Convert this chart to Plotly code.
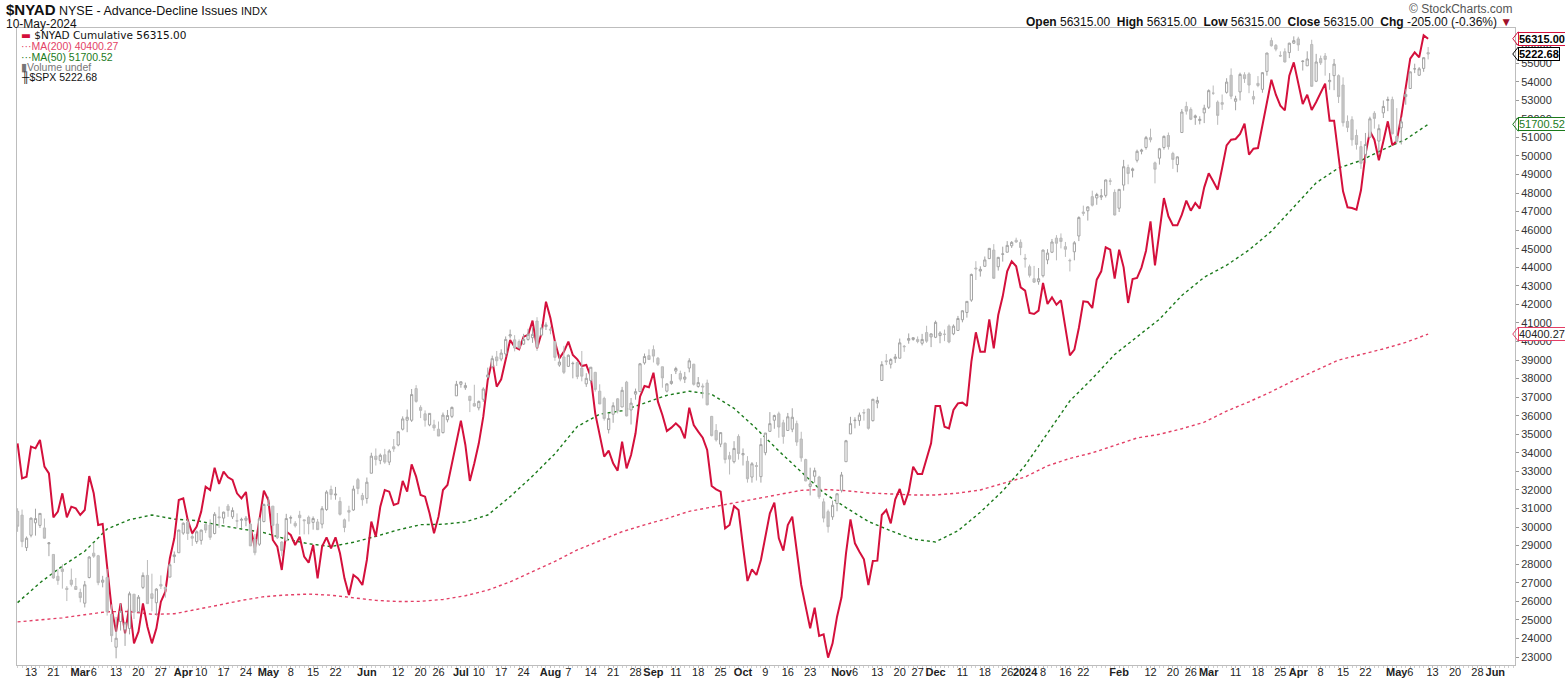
"""
$NYAD 累積漲跌線 × $SPX 疊加（StockCharts 風格重繪）
日線，2023-02-08 ~ 2024-05-10，x 軸以交易日序號排列（無週末/假日空隙）
"""
import pandas as pd
import plotly.graph_objects as go

# ── 交易日曆 ─────────────────────────────────────────────
HOLIDAYS = ['2023-02-20', '2023-04-07', '2023-05-29', '2023-06-19', '2023-07-04',
            '2023-09-04', '2023-11-23', '2023-12-25', '2024-01-01', '2024-01-15',
            '2024-02-19', '2024-03-29', '2024-05-27']
CAL = pd.bdate_range('2023-02-08', '2024-06-07', freq='C', holidays=HOLIDAYS)
DAY = {d.strftime('%Y-%m-%d'): i for i, d in enumerate(CAL)}

# ── $NYAD 收盤（每日）────────────────────────────────────
NYAD = [
    34513, 32627, 32716, 34333, 34243, 34692, 33255, 32896, 30525, 30831,
    31819, 30525, 31100, 31010, 30651, 30920, 32752, 31819, 30112, 30166,
    27867, 25622, 24365, 25891, 24275, 25802, 23736, 24365, 25891, 24634,
    23736, 24545, 25981, 26520, 28317, 29394, 31460, 31549, 30382, 29664,
    30023, 30831, 32178, 31998, 33202, 32321, 32986, 32681, 32537, 31819,
    31549, 31891, 30023, 28855, 30382, 31962, 31460, 29304, 28945, 27688,
    29753, 29574, 29035, 29484, 28406, 28083, 29035, 27238, 28945, 29448,
    28855, 29448, 28586, 27238, 26341, 27418, 27238, 26880, 28227, 30292,
    29484, 31100, 31998, 31909, 31190, 31280, 32483, 31909, 33381, 32717,
    31729, 31639, 30741, 29664, 30562, 31998, 32268, 33435, 34692, 35734,
    34423, 32483, 33435, 34513, 35950, 37925, 39003, 37566, 37961, 39003,
    40080, 39700, 39577, 40260, 40350, 41122, 39631, 40440, 42146, 41248,
    39990, 39092, 39452, 39990, 39272, 39038, 38679, 38733, 38105, 36129,
    34872, 33794, 34118, 33435, 33040, 34602, 33166, 33884, 35052, 37027,
    37602, 37530, 38320, 36758, 36039, 35177, 35357, 35590, 35357, 34782,
    36434, 35500, 35141, 34818, 34153, 32214, 32034, 31908, 29933, 30112,
    31136, 30920, 28945, 27095, 27724, 27418, 28227, 29484, 30741, 31316,
    29394, 28729, 30112, 30562, 28765, 26880, 25712, 24545, 25658, 24132,
    24222, 22964, 23736, 25173, 26215, 28586, 30418, 29124, 28675, 28262,
    26880, 28173, 28191, 30651, 30920, 30202, 31495, 32052, 31190, 31908,
    33255, 32860, 32860, 33704, 34513, 36524, 36524, 35411, 35321, 36309,
    36668, 36704, 36524, 38913, 40493, 39452, 39452, 41194, 39631, 41427,
    42433, 43780, 44319, 44050, 42918, 42739, 41535, 41481, 41661, 43152,
    42021, 42380, 41984, 42218, 40727, 39254, 39560, 40727, 42164, 42128,
    41805, 43331, 43780, 45073, 44947, 43385, 44947, 43996, 42074, 43367,
    43421, 43996, 44893, 46474, 44103, 45935, 47731, 46744, 46259, 46259,
    46833, 47588, 47049, 47462, 47157, 48306, 49060, 48630, 48180, 49348,
    50569, 50874, 50910, 51180, 51736, 50067, 50390, 50425, 51683, 52940,
    54107, 53299, 52706, 52455, 54323, 55041, 53981, 52796, 53299, 52473,
    52904, 53389, 53892, 51898, 51898, 49976, 48091, 47229, 47193, 47103,
    48145, 50066, 51323, 50874, 49761, 50785, 51862, 50569, 50820, 52131,
    53568, 55239, 55580, 55310, 56496, 56315,
]

# ── 移動平均（每 5 個交易日讀一點）──────────────────────
MA_DAY = list(range(0, 316, 5))
MA200 = [
    24890, 25000, 25110, 25280, 25440, 25450, 25300, 25330, 25550, 25800,
    26050, 26250, 26340, 26390, 26330, 26200, 26050, 25990, 26000, 26100,
    26300, 26600, 27050, 27600, 28150, 28770, 29250, 29750, 30120, 30460,
    30850, 31080, 31300, 31550, 31740, 31980, 32030, 31960, 31840, 31780,
    31730, 31730, 31830, 32000, 32330, 32700, 33300, 33700, 34000, 34400,
    34800, 35000, 35300, 35650, 36250, 36750, 37300, 37900, 38450, 39000,
    39300, 39600, 39950, 40400,
]
MA50 = [
    25930, 27000, 27900, 28700, 29900, 30400, 30650, 30430, 30350, 30100,
    29900, 29700, 29350, 29100, 28950, 29180, 29500, 29850, 30130, 30150,
    30280, 30650, 31640, 32750, 33950, 35420, 36080, 36270, 36680, 37100,
    37320, 37150, 36400, 35300, 34100, 33000, 31850, 31050, 30300, 29800,
    29350, 29200, 29800, 30800, 31950, 33320, 35080, 36800, 38000, 39300,
    40250, 41200, 42480, 43460, 44110, 44930, 45940, 47230, 48550, 49350,
    49750, 50350, 50890, 51700,
]

# ── $SPX 日 K（疊加，隱藏軸）───────────────────────────
SPX_OPEN = [
    4153, 4144, 4068, 4097, 4126, 4120, 4114, 4077, 4052, 4001, 4018, 3973, 3992, 3977,
    3963, 3938, 3998, 4055, 4049, 3987, 3998, 3912, 3835, 3895, 3876, 3879, 3959, 3918, 3975, 4003, 3960, 3939, 3982, 3975, 3999, 4047, 4056,
    4102, 4128, 4094, 4082, 4085, 4122, 4121, 4101, 4140, 4137, 4165, 4140, 4131, 4132, 4132, 4123, 4088, 4076, 4129,
    4167, 4165, 4123, 4081, 4084, 4137, 4125, 4144, 4133, 4139, 4127, 4128, 4123, 4157, 4204, 4191, 4176, 4133, 4155, 4156, 4227, 4190,
    4183, 4242, 4282, 4272, 4285, 4268, 4304, 4308, 4345, 4366, 4366, 4440, 4396, 4381, 4355, 4355, 4345, 4337, 4367, 4375, 4423,
    4450, 4442, 4422, 4405, 4395, 4415, 4467, 4491, 4514, 4509, 4521, 4563, 4554, 4550, 4544, 4555, 4559, 4598, 4565, 4585,
    4579, 4550, 4495, 4514, 4492, 4498, 4501, 4488, 4451, 4459, 4478, 4434, 4417, 4344, 4380, 4416, 4397, 4455, 4390, 4427, 4433, 4500, 4517,
    4531, 4511, 4491, 4434, 4452, 4481, 4475, 4462, 4488, 4497, 4445, 4446, 4453, 4375, 4342, 4310, 4312, 4283, 4269, 4328,
    4285, 4270, 4233, 4260, 4234, 4290, 4340, 4366, 4381, 4360, 4342, 4345, 4358, 4322, 4274, 4211, 4235, 4233, 4175, 4152, 4140, 4171,
    4202, 4269, 4334, 4365, 4365, 4384, 4392, 4365, 4406, 4459, 4505, 4497, 4510, 4511, 4539, 4553, 4555, 4555, 4546, 4571, 4561,
    4560, 4564, 4567, 4586, 4568, 4576, 4601, 4618, 4647, 4722, 4715, 4726, 4744, 4764, 4725, 4754, 4759, 4774, 4787, 4782,
    4745, 4725, 4697, 4690, 4704, 4741, 4759, 4792, 4792, 4772, 4740, 4760, 4797, 4853, 4856, 4889, 4886, 4888, 4892, 4926, 4899,
    4862, 4916, 4957, 4950, 4974, 4995, 5004, 5027, 4968, 4979, 5004, 5032, 4990, 4964, 5039, 5100, 5093, 5074, 5067, 5085,
    5098, 5131, 5110, 5109, 5133, 5173, 5112, 5134, 5174, 5176, 5123, 5154, 5140, 5182, 5254, 5243, 5219, 5228, 5226, 5248,
    5258, 5205, 5195, 5245, 5159, 5212, 5218, 5158, 5172, 5172, 5150, 5065, 5069, 5032, 5006, 4988, 5028, 5084, 5019, 5085, 5114, 5116,
    5030, 5050, 5123, 5142, 5188, 5173, 5189, 5226,
]
SPX_HIGH = [
    4160, 4157, 4094, 4138, 4159, 4149, 4136, 4081, 4053, 4018, 4029, 3978, 4019, 3997,
    3972, 3990, 4048, 4079, 4051, 4002, 4018, 3935, 3906, 3937, 3894, 3965, 3959, 3957, 4010, 4039, 4007, 3973, 4003, 3979, 4031, 4059, 4110,
    4127, 4134, 4100, 4108, 4110, 4125, 4134, 4151, 4164, 4152, 4170, 4162, 4148, 4138, 4142, 4127, 4100, 4139, 4171,
    4187, 4165, 4149, 4083, 4147, 4143, 4130, 4154, 4133, 4143, 4141, 4135, 4165, 4202, 4213, 4210, 4186, 4136, 4166, 4213, 4231, 4196,
    4232, 4290, 4300, 4288, 4299, 4298, 4322, 4340, 4375, 4391, 4439, 4448, 4401, 4389, 4382, 4367, 4363, 4384, 4390, 4398, 4458,
    4456, 4454, 4423, 4449, 4412, 4443, 4489, 4517, 4528, 4532, 4562, 4578, 4565, 4555, 4568, 4580, 4583, 4607, 4590, 4595,
    4585, 4551, 4520, 4540, 4520, 4503, 4503, 4528, 4476, 4490, 4479, 4450, 4421, 4382, 4408, 4418, 4444, 4458, 4418, 4440, 4500, 4522, 4532,
    4541, 4514, 4491, 4452, 4474, 4491, 4482, 4479, 4511, 4498, 4467, 4452, 4461, 4376, 4357, 4338, 4314, 4292, 4317, 4333,
    4300, 4282, 4268, 4268, 4324, 4336, 4385, 4379, 4386, 4367, 4383, 4394, 4365, 4339, 4276, 4255, 4255, 4236, 4183, 4157, 4178, 4195,
    4245, 4320, 4374, 4373, 4384, 4392, 4393, 4416, 4421, 4504, 4521, 4511, 4521, 4557, 4542, 4569, 4560, 4562, 4568, 4587, 4569,
    4599, 4574, 4578, 4590, 4590, 4610, 4623, 4644, 4709, 4738, 4726, 4749, 4769, 4778, 4748, 4772, 4785, 4785, 4793, 4789,
    4755, 4730, 4727, 4722, 4765, 4766, 4790, 4799, 4803, 4783, 4744, 4785, 4843, 4868, 4866, 4903, 4898, 4907, 4929, 4932, 4906,
    4907, 4975, 4964, 4957, 4999, 5001, 5031, 5048, 4971, 5003, 5032, 5039, 4994, 4983, 5094, 5111, 5098, 5081, 5077, 5104,
    5140, 5149, 5114, 5128, 5166, 5189, 5125, 5179, 5180, 5180, 5137, 5171, 5180, 5225, 5261, 5246, 5229, 5236, 5249, 5264,
    5263, 5208, 5229, 5256, 5223, 5219, 5225, 5178, 5211, 5175, 5168, 5079, 5077, 5046, 5019, 5038, 5076, 5089, 5058, 5114, 5123, 5123,
    5096, 5074, 5140, 5181, 5200, 5192, 5215, 5239,
]
SPX_LOW = [
    4105, 4069, 4060, 4092, 4096, 4114, 4089, 4048, 3995, 3981, 3972, 3943, 3977, 3969,
    3940, 3928, 3996, 4044, 3980, 3975, 3909, 3847, 3809, 3874, 3838, 3865, 3901, 3917, 3971, 3936, 3919, 3909, 3971, 3951, 3999, 4032, 4056,
    4098, 4086, 4072, 4077, 4075, 4102, 4086, 4099, 4114, 4124, 4140, 4135, 4114, 4114, 4118, 4072, 4050, 4072, 4127,
    4165, 4099, 4088, 4048, 4084, 4124, 4115, 4098, 4099, 4099, 4110, 4110, 4113, 4154, 4180, 4180, 4143, 4104, 4129, 4154, 4193, 4166,
    4171, 4242, 4260, 4263, 4264, 4261, 4292, 4305, 4342, 4338, 4362, 4407, 4371, 4351, 4352, 4341, 4329, 4335, 4361, 4371, 4423,
    4442, 4437, 4385, 4398, 4389, 4409, 4464, 4489, 4493, 4504, 4514, 4557, 4527, 4532, 4542, 4552, 4547, 4528, 4564, 4577,
    4567, 4505, 4491, 4474, 4491, 4464, 4462, 4457, 4444, 4453, 4433, 4404, 4365, 4335, 4360, 4382, 4397, 4375, 4356, 4414, 4432, 4496, 4507,
    4501, 4493, 4442, 4431, 4449, 4474, 4457, 4453, 4478, 4447, 4442, 4417, 4401, 4328, 4316, 4303, 4265, 4239, 4265, 4274,
    4260, 4220, 4220, 4225, 4220, 4284, 4339, 4346, 4325, 4311, 4342, 4338, 4306, 4269, 4223, 4190, 4220, 4182, 4127, 4103, 4133, 4153,
    4197, 4269, 4334, 4347, 4353, 4365, 4344, 4363, 4394, 4459, 4495, 4487, 4500, 4511, 4526, 4545, 4552, 4546, 4541, 4547, 4537,
    4558, 4546, 4551, 4546, 4565, 4575, 4595, 4606, 4643, 4694, 4702, 4725, 4743, 4697, 4716, 4737, 4759, 4769, 4781, 4752,
    4723, 4700, 4687, 4683, 4700, 4731, 4757, 4740, 4768, 4748, 4714, 4740, 4785, 4844, 4833, 4866, 4870, 4881, 4887, 4916, 4845,
    4853, 4903, 4918, 4934, 4969, 4988, 4999, 5016, 4920, 4964, 4999, 4999, 4954, 4946, 5039, 5081, 5068, 5057, 5058, 5061,
    5094, 5127, 5057, 5092, 5130, 5117, 5091, 5114, 5155, 5131, 5105, 5145, 5132, 5172, 5240, 5229, 5216, 5203, 5213, 5246,
    5230, 5184, 5195, 5146, 5157, 5197, 5172, 5139, 5138, 5108, 5053, 5040, 5008, 4999, 4954, 4969, 5027, 5048, 4990, 5073, 5089, 5035,
    5013, 5011, 5104, 5142, 5178, 5172, 5181, 5210,
]
SPX_CLOSE = [
    4118, 4082, 4090, 4137, 4136, 4148, 4090, 4079, 3997, 3991, 4012, 3970, 3982, 3970,
    3951, 3981, 4046, 4048, 3986, 3992, 3918, 3862, 3856, 3919, 3892, 3960, 3917, 3952, 4003, 3937, 3949, 3971, 3978, 3971, 4028, 4051, 4109,
    4125, 4101, 4090, 4105, 4109, 4109, 4092, 4146, 4138, 4151, 4155, 4155, 4130, 4134, 4137, 4072, 4056, 4135, 4169,
    4168, 4120, 4091, 4061, 4136, 4138, 4119, 4138, 4131, 4124, 4136, 4110, 4159, 4198, 4192, 4193, 4146, 4115, 4151, 4205, 4206, 4180,
    4221, 4282, 4274, 4284, 4268, 4294, 4299, 4339, 4369, 4373, 4426, 4410, 4389, 4366, 4382, 4348, 4329, 4378, 4377, 4396, 4450,
    4456, 4447, 4412, 4399, 4410, 4439, 4472, 4510, 4505, 4523, 4555, 4566, 4535, 4536, 4555, 4567, 4567, 4537, 4582, 4589,
    4577, 4513, 4502, 4478, 4518, 4499, 4468, 4469, 4464, 4490, 4438, 4404, 4370, 4370, 4400, 4388, 4436, 4376, 4406, 4433, 4498, 4515, 4508,
    4516, 4497, 4465, 4451, 4457, 4487, 4462, 4467, 4505, 4450, 4454, 4444, 4402, 4330, 4320, 4337, 4274, 4275, 4300, 4288,
    4288, 4229, 4264, 4258, 4309, 4336, 4358, 4377, 4350, 4328, 4374, 4373, 4315, 4278, 4224, 4217, 4248, 4187, 4137, 4117, 4167, 4194,
    4238, 4318, 4358, 4366, 4378, 4383, 4347, 4415, 4412, 4496, 4503, 4508, 4514, 4547, 4538, 4557, 4559, 4550, 4555, 4551, 4568,
    4595, 4570, 4567, 4549, 4586, 4604, 4622, 4644, 4707, 4720, 4719, 4741, 4768, 4698, 4747, 4755, 4775, 4782, 4783, 4770,
    4743, 4705, 4689, 4697, 4764, 4757, 4783, 4780, 4784, 4766, 4739, 4781, 4840, 4850, 4865, 4869, 4894, 4891, 4928, 4925, 4846,
    4906, 4959, 4943, 4954, 4995, 4998, 5027, 5022, 4953, 5001, 5030, 5006, 4976, 4982, 5087, 5089, 5070, 5078, 5070, 5096,
    5137, 5131, 5079, 5105, 5157, 5124, 5118, 5175, 5165, 5150, 5117, 5149, 5179, 5225, 5242, 5234, 5218, 5204, 5248, 5254,
    5244, 5206, 5211, 5147, 5204, 5202, 5210, 5161, 5199, 5123, 5062, 5051, 5022, 5011, 4967, 5011, 5071, 5072, 5048, 5100, 5116, 5036,
    5018, 5064, 5128, 5181, 5188, 5188, 5214, 5222.68,
]

# ── x 軸刻度 ────────────────────────────────────────────
TICK_DATES = [
    '2023-02-13', '2023-02-21', '2023-03-01', '2023-03-06', '2023-03-13', '2023-03-20', '2023-03-27',
    '2023-04-03', '2023-04-10', '2023-04-17', '2023-04-24', '2023-05-01', '2023-05-08', '2023-05-15',
    '2023-05-22', '2023-06-01', '2023-06-12', '2023-06-20', '2023-06-26', '2023-07-03', '2023-07-10',
    '2023-07-17', '2023-07-24', '2023-08-01', '2023-08-07', '2023-08-14', '2023-08-21', '2023-08-28',
    '2023-09-01', '2023-09-11', '2023-09-18', '2023-09-25', '2023-10-02', '2023-10-09', '2023-10-16',
    '2023-10-23', '2023-11-01', '2023-11-06', '2023-11-13', '2023-11-20', '2023-11-27', '2023-12-01',
    '2023-12-11', '2023-12-18', '2023-12-26', '2024-01-02', '2024-01-08', '2024-01-16', '2024-01-22',
    '2024-02-01', '2024-02-12', '2024-02-20', '2024-02-26', '2024-03-01', '2024-03-11', '2024-03-18',
    '2024-03-25', '2024-04-01', '2024-04-08', '2024-04-15', '2024-04-22', '2024-05-01', '2024-05-06',
    '2024-05-13', '2024-05-20', '2024-05-28', '2024-06-03',
]
TICK_TEXT = [
    '13', '21', '<b>Mar</b>', '6', '13', '20', '27',
    '<b>Apr</b>', '10', '17', '24', '<b>May</b>', '8', '15',
    '22', '<b>Jun</b>', '12', '20', '26', '<b>Jul</b>', '10',
    '17', '24', '<b>Aug</b>', '7', '14', '21', '28',
    '<b>Sep</b>', '11', '18', '25', '<b>Oct</b>', '9', '16',
    '23', '<b>Nov</b>', '6', '13', '20', '27', '<b>Dec</b>',
    '11', '18', '26', '<b>2024</b>', '8', '16', '22',
    '<b>Feb</b>', '12', '20', '26', '<b>Mar</b>', '11', '18',
    '25', '<b>Apr</b>', '8', '15', '22', '<b>May</b>', '6',
    '13', '20', '28', '<b>Jun</b>',
]

for arr in (SPX_OPEN, SPX_HIGH, SPX_LOW, SPX_CLOSE):
    assert len(arr) == len(NYAD), (len(arr), len(NYAD))
assert len(MA200) == len(MA_DAY) == len(MA50)

RED = '#D4103C'
MA200_C = '#E33F66'
MA50_C = '#1B7A1B'
AXIS_C = '#BDBDBD'

x_days = list(range(len(NYAD)))

fig = go.Figure()

fig.add_trace(go.Candlestick(
    x=x_days, open=SPX_OPEN, high=SPX_HIGH, low=SPX_LOW, close=SPX_CLOSE,
    increasing=dict(line=dict(color='#A3A3A3', width=1), fillcolor='#FFFFFF'),
    decreasing=dict(line=dict(color='#BABABA', width=1), fillcolor='#C8C8C8'),
    whiskerwidth=0, yaxis='y2', name='$SPX', showlegend=False,
))
fig.add_trace(go.Scatter(
    x=MA_DAY, y=MA200, mode='lines', line=dict(color=MA200_C, width=1.4, dash='dot'),
    name='MA(200)', showlegend=False,
))
fig.add_trace(go.Scatter(
    x=MA_DAY, y=MA50, mode='lines', line=dict(color=MA50_C, width=1.4, dash='dot'),
    name='MA(50)', showlegend=False,
))
fig.add_trace(go.Scatter(
    x=x_days, y=NYAD, mode='lines', line=dict(color=RED, width=2),
    name='$NYAD Cumulative', showlegend=False,
))

# ── 右側價格標籤（箭頭框）──────────────────────────────
TAGS = [
    (56315.00, 'y', '<b>56315.00</b>', RED, '#000000', 377),
    (5222.68, 'y2', '<b>5222.68</b>', '#000000', '#000000', 16.4),
    (51700.52, 'y', '51700.52', MA50_C, MA50_C, 377),
    (40400.27, 'y', '40400.27', MA200_C, '#222222', 377),
]
X_TIP, X_BOX = 0.9985, 1.0022
for val, yref, txt, border, fc, h in TAGS:
    fig.add_annotation(
        x=X_BOX, y=val, xref='paper', yref=yref, text=txt, showarrow=False,
        xanchor='left', yanchor='middle',
        font=dict(family='Arial', size=11, color=fc),
        bordercolor=border, borderwidth=1, borderpad=0, bgcolor='#FFFFFF',
    )
    fig.add_shape(
        type='path', xref='paper', yref=yref,
        path=f'M {X_BOX},{val + h} L {X_TIP},{val} L {X_BOX},{val - h}',
        line=dict(color=border, width=1),
    )

# ── 標題與頂部資訊 ─────────────────────────────────────
fig.add_annotation(
    x=-0.0087, y=1.0298, xref='paper', yref='paper', showarrow=False,
    xanchor='left', yanchor='middle',
    text='<span style="font-size:15px"><b>$NYAD</b></span> NYSE - Advance-Decline Issues '
         '<span style="font-size:11px">INDX</span>',
    font=dict(family='Arial', size=12.5, color='#111111'),
)
fig.add_annotation(
    x=-0.0087, y=1.0063, xref='paper', yref='paper', showarrow=False,
    xanchor='left', yanchor='middle', text='10-May-2024',
    font=dict(family='Arial', size=12, color='#111111'),
)
fig.add_annotation(
    x=1.0, y=1.0298, xref='paper', yref='paper', showarrow=False,
    xanchor='right', yanchor='middle', text='© StockCharts.com',
    font=dict(family='Arial', size=12, color='#555555'),
)
fig.add_annotation(
    x=0.9995, y=1.0094, xref='paper', yref='paper', showarrow=False,
    xanchor='right', yanchor='middle',
    text='<b>Open</b> 56315.00  <b>High</b> 56315.00  <b>Low</b> 56315.00  '
         '<b>Close</b> 56315.00  <b>Chg</b> -205.00 (-0.36%) '
         '<span style="color:#A0102A">▼</span>',
    font=dict(family='Arial', size=12, color='#111111'),
)

# ── 圖例（左上角，畫內）────────────────────────────────
LEGEND = [
    (0.989, f'<span style="color:{RED}">▬</span> <span style="color:#111">$NYAD Cumulative 56315.00</span>',
     'DejaVu Sans', 10.5, '#111111'),
    (0.972, '···MA(200) 40400.27', 'Arial', 10.5, MA200_C),
    (0.955, '···MA(50) 51700.52', 'Arial', 10.5, MA50_C),
    (0.938, '▮Volume undef', 'Arial', 10.5, '#777777'),
    (0.921, '<span style="color:#111">╫</span>$SPX 5222.68', 'Arial', 10.5, '#111111'),
]
for y, txt, fam, sz, col in LEGEND:
    fig.add_annotation(
        x=0.0013, y=y, xref='paper', yref='paper', showarrow=False,
        xanchor='left', yanchor='middle', text=txt,
        font=dict(family=fam, size=sz, color=col),
    )

fig.update_layout(
    width=1565, height=681,
    margin=dict(l=17, r=50, t=28, b=16, autoexpand=False),
    paper_bgcolor='#FFFFFF', plot_bgcolor='#FFFFFF',
    font=dict(family='Arial', color='#222222'),
    showlegend=False,
    hovermode='x',
    xaxis=dict(
        range=[-0.13, 334.4],
        tickmode='array',
        tickvals=[DAY[d] for d in TICK_DATES],
        ticktext=TICK_TEXT,
        tickangle=0,
        automargin=False,
        ticklabelstandoff=-5,
        tickfont=dict(family='Arial', size=11, color='#222222'),
        ticks='outside', ticklen=2, tickcolor=AXIS_C,
        minor=dict(tickmode='linear', tick0=0, dtick=1, ticks='outside',
                   ticklen=2, tickcolor='#CFCFCF'),
        showline=True, linecolor=AXIS_C, linewidth=1, mirror=True,
        showgrid=False, zeroline=False,
        rangeslider=dict(visible=False),
    ),
    yaxis=dict(
        side='right',
        range=[22569, 56891],
        tickmode='linear', tick0=23000, dtick=1000,
        tickformat='d',
        automargin=False,
        tickfont=dict(family='Arial', size=11, color='#333333'),
        ticks='outside', ticklen=3, tickcolor='#999999',
        showline=True, linecolor=AXIS_C, linewidth=1, mirror=True,
        showgrid=False, zeroline=False,
    ),
    yaxis2=dict(
        overlaying='y', range=[3793.4, 5283.5], visible=False,
        showgrid=False, zeroline=False,
    ),
)

# 頁面預設 body 邊距 8px，去掉以免整張圖偏移；不顯示工具列
fig.write_html('out.html', config={'displayModeBar': False},
               post_script="document.body.style.margin='0';")
